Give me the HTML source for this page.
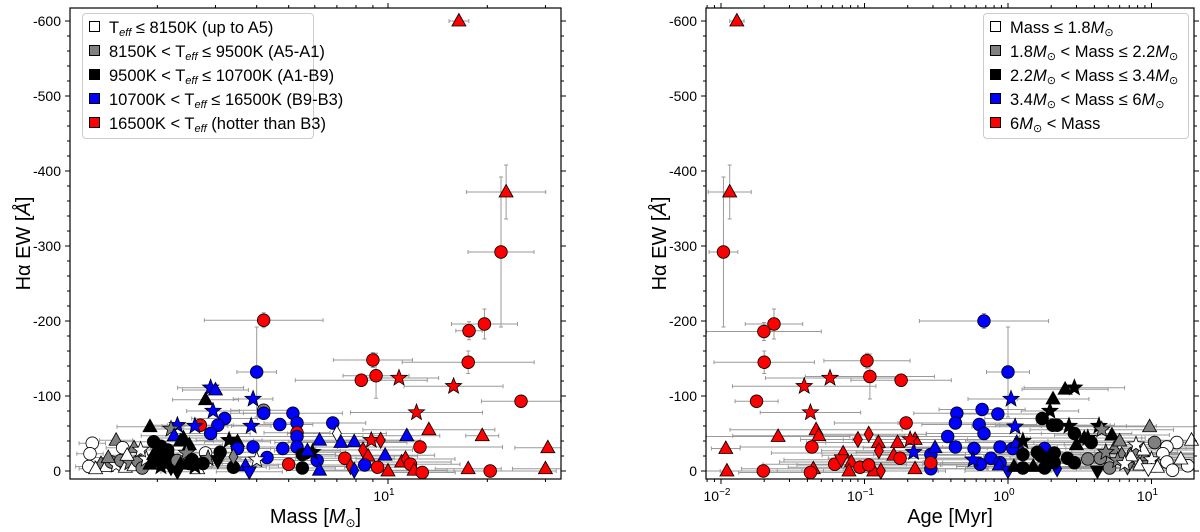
<!DOCTYPE html>
<html><head><meta charset="utf-8">
<style>
body{margin:0;background:#fff;width:1200px;height:532px;overflow:hidden;font-family:"Liberation Sans",sans-serif;}
#wrap{position:relative;width:1200px;height:532px;}
svg{position:absolute;left:0;top:0;}
.legend{position:absolute;background:rgba(255,255,255,0.85);border:1px solid #ccc;border-radius:4px;font-size:16.5px;color:#000;}
.entry{position:absolute;left:6px;white-space:nowrap;line-height:20px;}
.sw{display:inline-block;width:9px;height:9px;border:1px solid #000;margin-right:9px;vertical-align:1px;}
sub{font-size:11px;font-style:italic;vertical-align:-3px;}
i{font-style:italic;}
.odot{font-size:11px;vertical-align:-3px;}
</style></head><body>
<div id="wrap">
<svg id="svg" width="1200" height="532"></svg>

<div class="legend" style="left:82px;top:13px;width:230px;height:124px;">
 <div class="entry" style="top:4px"><span class="sw" style="background:#fff"></span>T<sub>eff</sub> ≤ 8150K (up to A5)</div>
 <div class="entry" style="top:28px"><span class="sw" style="background:#808080"></span>8150K &lt; T<sub>eff</sub> ≤ 9500K (A5-A1)</div>
 <div class="entry" style="top:52px"><span class="sw" style="background:#000"></span>9500K &lt; T<sub>eff</sub> ≤ 10700K (A1-B9)</div>
 <div class="entry" style="top:76px"><span class="sw" style="background:#0000ff"></span>10700K &lt; T<sub>eff</sub> ≤ 16500K (B9-B3)</div>
 <div class="entry" style="top:100px"><span class="sw" style="background:#ff0000"></span>16500K &lt; T<sub>eff</sub> (hotter than B3)</div>
</div>

<div class="legend" style="left:983px;top:13px;width:204px;height:124px;">
 <div class="entry" style="top:4px"><span class="sw" style="background:#fff"></span>Mass ≤ 1.8<i>M</i><span class="odot">⊙</span></div>
 <div class="entry" style="top:28px"><span class="sw" style="background:#808080"></span>1.8<i>M</i><span class="odot">⊙</span> &lt; Mass ≤ 2.2<i>M</i><span class="odot">⊙</span></div>
 <div class="entry" style="top:52px"><span class="sw" style="background:#000"></span>2.2<i>M</i><span class="odot">⊙</span> &lt; Mass ≤ 3.4<i>M</i><span class="odot">⊙</span></div>
 <div class="entry" style="top:76px"><span class="sw" style="background:#0000ff"></span>3.4<i>M</i><span class="odot">⊙</span> &lt; Mass ≤ 6<i>M</i><span class="odot">⊙</span></div>
 <div class="entry" style="top:100px"><span class="sw" style="background:#ff0000"></span>6<i>M</i><span class="odot">⊙</span> &lt; Mass</div>
</div>
</div>

<script>
// ---- data: [x value, H-alpha EW magnitude (Å, plotted as negative), shape, colour class, x error (dex), y error] ----
const leftPoints = [
[16.4,600,'^','r',0.03,0],[22.8,372,'^','r',0.12,36],[22,292,'o','r',0.1,100],[17.6,187,'o','r',0.04,12],[19.6,196,'o','r',0.1,20],
[4.2,201,'o','r',0.18,10],[25.3,93,'o','r',0.12,0],[9.0,148,'o','r',0.12,10],[17.5,145,'o','r',0.2,15],[8.3,121,'o','r',0.2,0],
[9.2,127,'o','r',0.1,30],[10.8,124,'*','r',0.12,0],[15.8,113,'*','r',0.15,0],[12.2,78,'*','r',0.2,0],
[4.0,132,'o','b',0.06,60],[2.9,111,'*','b',0.1,0],[3.0,108,'^','b',0.1,0],[2.8,95,'^','k',0.1,0],[3.9,96,'*','b',0.06,0],
[2.95,80,'*','b',0.08,0],[4.2,81,'o','g',0.1,0],[4.2,77,'o','b',0.1,0],[5.15,77,'o','b',0.15,0],[3.2,70,'o','b',0.1,0],
[3.05,61,'o','b',0.1,0],[2.7,61,'o','r',0.1,0],[2.6,60,'*','b',0.1,0],[2.3,61,'*','b',0.08,0],[2.2,56,'*','g',0.06,0],
[1.9,59,'^','k',0.1,0],[2.9,50,'o','b',0.12,0],[3.85,60,'*','b',0.06,0],[4.7,62,'o','b',0.1,0],[5.3,64,'o','b',0.1,0],
[5.3,51,'o','r',0.1,0],[5.3,46,'o','b',0.2,0],[5.3,32,'o','b',0.2,0],[6.8,64,'o','b',0.1,0],[7.0,50,'d','w',0.15,0],
[6.2,41,'^','b',0.2,0],[7.2,38,'^','b',0.2,0],[7.9,39,'^','b',0.2,0],[11.4,47,'^','b',0.1,0],[9.8,21,'^','b',0.15,0],
[13.3,55,'^','r',0.2,0],[19.3,47,'^','r',0.05,0],[30.5,31,'^','r',0.1,0],[8.9,41,'*','r',0.1,0],[9.5,41,'d','r',0.12,0],
[8.4,28,'d','r',0.15,0],[8.7,20,'^','r',0.15,0],[12.5,32,'o','r',0.25,0],[7.4,17,'o','r',0.15,0],[7.7,6,'d','r',0.1,0],
[7.9,1,'d','b',0.1,0],[8.5,8,'o','b',0.15,0],[9.3,5,'o','r',0.1,0],[10,0,'^','r',0.2,0],[11,12,'^','r',0.15,0],
[11.3,16,'d','r',0.15,0],[11.7,9,'o','r',0.15,0],[12,1,'^','r',0.1,0],[12.7,-2,'o','r',0.1,0],[17.5,3,'^','r',0.1,0],
[20.4,0,'o','r',0.2,0],[30,3,'^','r',0.1,0],[2.25,47,'^','b',0.1,0],[2.4,44,'^','k',0.1,0],[2.5,35,'^','k',0.1,0],
[2.35,40,'^','k',0.1,0],[1.95,39,'o','k',0.1,0],[2.05,33,'o','k',0.1,0],[3.3,41,'*','k',0.1,0],[3.5,39,'^','k',0.1,0],
[1.5,41,'^','g',0.05,0],[1.7,31,'^','g',0.05,0],[1.27,37,'o','w',0.04,0],[1.25,23,'o','w',0.04,0],[1.24,6,'o','w',0.04,0],
[1.57,31,'o','w',0.05,0],[3.5,30,'o','b',0.1,0],[3.9,32,'o','b',0.1,0],[4.8,30,'o','b',0.1,0],[4.3,18,'o','b',0.1,0],
[6.1,14,'o','b',0.1,0],[5.0,9,'o','r',0.1,0],[3.1,25,'o','k',0.1,0],[3.4,5,'o','k',0.1,0],[2.8,24,'o','w',0.1,0],
[2.5,10,'o','k',0.1,0],[5.5,22,'o','k',0.1,0],[5.5,4,'o','k',0.1,0],[2.2,4,'v','k',0.1,0],[2.65,3,'^','w',0.1,0],
[3.7,7,'^','b',0.1,0],[3.8,-1,'v','b',0.1,0],[6.2,1,'^','b',0.1,0],[3.4,19,'d','g',0.1,0],[4.0,15,'*','w',0.1,0],
[5.9,25,'*','k',0.1,0],[5.7,27,'^','b',0.1,0],
[1.35,10,'^','g',0.05,0],[1.4,6,'^','w',0.05,0],[1.45,12,'o','g',0.05,0],[1.5,8,'*','w',0.05,0],[1.55,14,'o','g',0.05,0],
[1.6,5,'^','w',0.05,0],[1.65,11,'*','g',0.05,0],[1.7,7,'^','w',0.05,0],[1.75,13,'o','g',0.05,0],[1.8,4,'o','g',0.05,0],
[1.85,16,'*','w',0.05,0],[1.9,9,'^','k',0.05,0],[1.95,22,'^','k',0.05,0],[2.0,18,'o','k',0.05,0],[2.05,6,'*','k',0.05,0],
[2.1,12,'o','k',0.05,0],[2.15,28,'o','k',0.05,0],[2.2,20,'^','k',0.05,0],[2.3,14,'o','g',0.05,0],[2.35,9,'^','k',0.05,0],
[2.45,24,'*','g',0.05,0],[2.55,15,'o','k',0.05,0],[2.6,6,'*','k',0.05,0],[1.3,3,'^','w',0.05,0],[1.42,18,'^','g',0.05,0],
[1.62,21,'^','w',0.05,0],[1.78,28,'*','w',0.05,0],[2.85,17,'*','g',0.1,0],[2.75,10,'o','k',0.1,0],[3.05,13,'v','k',0.1,0],
[2.3,-1,'v','k',0.05,0]
];
const rightPoints = [
[0.0129,600,'^','r',0.05,0],[0.0115,372,'^','r',0.15,36],[0.0104,292,'o','r',0.1,100],[0.0199,186,'o','r',0.4,12],
[0.0234,196,'o','r',0.2,20],[0.020,145,'o','r',0.35,15],[0.0177,93,'o','r',0.15,0],[0.038,113,'*','r',0.5,0],
[0.0575,124,'*','r',0.45,0],[0.042,78,'*','r',0.35,0],[0.104,147,'o','r',0.3,10],[0.109,126,'o','r',0.45,30],
[0.18,121,'o','r',0.35,0],[0.195,64,'o','r',0.5,0],[0.68,200,'o','b',0.45,10],[1.0,132,'o','b',0.15,60],
[1.05,96,'*','b',0.3,0],[2.5,109,'^','k',0.3,0],[2.9,111,'*','k',0.35,0],[2.06,96,'^','k',0.25,0],[1.96,80,'*','k',0.2,0],
[0.44,77,'o','b',0.3,0],[0.66,82,'o','b',0.3,0],[0.85,76,'o','b',0.3,0],[0.43,64,'o','b',0.4,0],[0.63,62,'o','b',0.4,0],
[0.68,50,'o','b',0.4,0],[0.38,46,'o','b',0.5,0],[0.43,32,'o','b',0.5,0],[0.58,30,'o','b',0.4,0],[0.88,32,'o','b',0.4,0],
[1.08,30,'o','b',0.4,0],[1.8,30,'o','b',0.4,0],[0.76,17,'o','b',0.4,0],[0.88,11,'o','b',0.4,0],[0.64,9,'o','b',0.4,0],
[0.29,22,'o','b',0.4,0],[0.29,3,'o','b',0.4,0],[1.12,59,'*','b',0.3,0],[0.57,15,'*','b',0.3,0],[0.22,25,'*','b',0.4,0],
[0.31,31,'^','b',0.5,0],[1.15,38,'^','b',0.4,0],[0.87,8,'^','b',0.4,0],[1.0,0,'v','b',0.3,0],[2.2,3,'d','b',0.3,0],
[1.73,70,'o','k',0.4,0],[2.05,61,'o','k',0.4,0],[2.2,61,'o','k',0.4,0],[2.9,50,'o','k',0.4,0],[3.8,38,'o','k',0.4,0],
[1.27,22,'o','k',0.4,0],[1.6,25,'o','k',0.4,0],[2.1,24,'o','k',0.4,0],[2.6,17,'o','k',0.4,0],[2.9,11,'o','k',0.4,0],
[1.27,4,'o','k',0.4,0],[1.8,4,'o','k',0.4,0],[2.1,11,'o','k',0.4,0],[2.66,60,'*','k',0.4,0],[4.3,60,'*','k',0.4,0],
[1.27,40,'*','k',0.4,0],[3.6,44,'*','k',0.4,0],[3.0,35,'^','k',0.4,0],[1.5,6,'^','k',0.4,0],[1.1,6,'^','k',0.4,0],
[5.3,48,'^','k',0.4,0],[3.4,44,'^','k',0.4,0],[4.2,0,'v','k',0.4,0],[1.7,20,'o','k',0.4,0],[1.9,15,'*','k',0.4,0],
[9.7,59,'^','g',0.5,0],[10.5,38,'o','g',0.5,0],[3.6,16,'o','g',0.5,0],[5.1,4,'o','g',0.5,0],[4.4,17,'o','g',0.5,0],
[5.5,30,'^','g',0.5,0],[6.2,22,'^','g',0.5,0],[7.0,12,'^','g',0.5,0],[8.0,30,'^','g',0.5,0],[9.0,18,'^','g',0.5,0],
[6.8,5,'v','g',0.5,0],[4.8,25,'*','g',0.5,0],[5.8,14,'*','g',0.5,0],[7.5,24,'o','g',0.5,0],[9.5,10,'*','g',0.5,0],
[4.5,55,'*','g',0.5,0],[6.0,40,'^','g',0.5,0],
[15,38,'o','w',0.3,0],[12.8,32,'o','w',0.3,0],[12,23,'o','w',0.3,0],[12.8,12,'o','w',0.3,0],[14,1,'o','w',0.3,0],
[17.9,7,'o','w',0.3,0],[19,41,'^','w',0.3,0],[7.2,20,'^','w',0.5,0],[8.3,8,'^','w',0.5,0],[10,15,'*','w',0.5,0],
[11,5,'^','w',0.5,0],[6.5,10,'*','w',0.5,0],[8.8,28,'^','w',0.5,0],[9.5,3,'v','w',0.5,0],[16,16,'^','w',0.3,0],[7.8,35,'*','w',0.5,0],
[0.0108,30,'^','r',0.1,0],[0.011,0,'^','r',0.3,0],[0.025,46,'^','r',0.5,0],[0.046,55,'^','r',0.6,0],[0.048,47,'^','r',0.6,0],
[0.044,3,'^','r',0.5,0],[0.071,24,'^','r',0.5,0],[0.081,12,'^','r',0.5,0],[0.078,0,'^','r',0.5,0],[0.116,0,'^','r',0.5,0],
[0.125,38,'^','r',0.5,0],[0.16,21,'^','r',0.5,0],[0.17,38,'^','r',0.5,0],[0.225,3,'^','r',0.5,0],[0.225,42,'^','r',0.5,0],
[0.0197,0,'o','r',0.3,0],[0.043,32,'o','r',0.5,0],[0.042,-2,'o','r',0.5,0],[0.062,9,'o','r',0.5,0],[0.093,5,'o','r',0.5,0],
[0.107,8,'o','r',0.5,0],[0.177,17,'o','r',0.5,0],[0.29,11,'o','r',0.5,0],[0.09,42,'d','r',0.4,0],[0.107,49,'d','r',0.4,0],
[0.126,27,'d','r',0.4,0],[0.13,0,'d','r',0.4,0],[0.069,15,'v','r',0.4,0],[0.208,42,'*','r',0.4,0]
];
const yTickValues = [0,100,200,300,400,500,600];
const leftXMajor = [10];
const leftXMinor = [2,3,4,5,6,7,8,9,20,30];
const rightXMajor = [0.01,0.1,1,10];
const rightXMinor = [0.008,0.009,0.02,0.03,0.04,0.05,0.06,0.07,0.08,0.09,0.2,0.3,0.4,0.5,0.6,0.7,0.8,0.9,2,3,4,5,6,7,8,9,20];
const rightXLabels = ['−2','−1','0','1'];

const NS='http://www.w3.org/2000/svg';
const svg=document.getElementById('svg');
const COL={w:'#ffffff',g:'#808080',k:'#000000',b:'#0000ff',r:'#ff0000'};
function mk(tag,attrs,parent){const e=document.createElementNS(NS,tag);for(const k in attrs)e.setAttribute(k,attrs[k]);(parent||svg).appendChild(e);return e;}

const TOP=8,BOT=479;
function yScale(v){return 471-v*0.75;}

function drawPanel(p){
  const g=mk('g',{});
  
  
  const xs=v=>p.x0Pix+p.ppd*(Math.log10(v)-p.logRef);
  const eg=mk('g',{},g);
  
  
  p.points.forEach(d=>{
    const x=xs(d[0]),y=yScale(d[1]);
    const xl=Math.max(p.L,xs(d[0]/Math.pow(10,d[4]))),xr=Math.min(p.R,xs(d[0]*Math.pow(10,d[4])));
    const ln=mk('line',{x1:xl,y1:y,x2:xr,y2:y,stroke:'#9a9a9a','stroke-width':1},eg);
    
    
    if(xl>p.L)mk('line',{x1:xl,y1:y-2,x2:xl,y2:y+2,stroke:'#9a9a9a','stroke-width':1},eg);
    if(xr<p.R)mk('line',{x1:xr,y1:y-2,x2:xr,y2:y+2,stroke:'#9a9a9a','stroke-width':1},eg);
    if(d[5]>0){
      const y1=yScale(d[1]+d[5]),y2=yScale(d[1]-d[5]);
      const vl=mk('line',{x1:x,y1:y1,x2:x,y2:y2,stroke:'#9a9a9a','stroke-width':1},eg);
      
      
      mk('line',{x1:x-2,y1:y1,x2:x+2,y2:y1,stroke:'#9a9a9a','stroke-width':1},eg);
      mk('line',{x1:x-2,y1:y2,x2:x+2,y2:y2,stroke:'#9a9a9a','stroke-width':1},eg);
    }
  });
  p.points.forEach(d=>{
    const x=xs(d[0]),y=yScale(d[1]);const f=COL[d[3]];
    const st={fill:f,stroke:'#000','stroke-width':0.8};
    let m;
    if(d[2]==='o'){m=mk('circle',Object.assign({cx:x,cy:y,r:6.3},st),g);}
    else if(d[2]==='^'){m=mk('polygon',Object.assign({points:`${x},${y-7.5} ${x+7},${y+5} ${x-7},${y+5}`},st),g);}
    else if(d[2]==='v'){m=mk('polygon',Object.assign({points:`${x},${y+7.5} ${x+7},${y-5} ${x-7},${y-5}`},st),g);}
    else if(d[2]==='d'){m=mk('polygon',Object.assign({points:`${x},${y-8} ${x+4.5},${y} ${x},${y+8} ${x-4.5},${y}`},st),g);}
    else {let pts=[];for(let i=0;i<10;i++){const r=i%2?3.6:8.5;const a=-Math.PI/2+i*Math.PI/5;pts.push((x+r*Math.cos(a)).toFixed(1)+','+(y+r*Math.sin(a)).toFixed(1));}
      m=mk('polygon',Object.assign({points:pts.join(' ')},st),g);}
    
    
  });
  const fr=mk('rect',{x:p.L,y:TOP,width:p.R-p.L,height:BOT-TOP,fill:'none',stroke:'#000','stroke-width':1.2},g);
  
  
  for(let v=-20;v<=620;v+=20){const y=yScale(v);if(y<TOP||y>BOT)continue;const len=(v%100===0)?5:3;
    mk('line',{x1:p.L-len,y1:y,x2:p.L,y2:y,stroke:'#000','stroke-width':1},g);
    mk('line',{x1:p.R,y1:y,x2:p.R+len,y2:y,stroke:'#000','stroke-width':1},g);}
  yTickValues.forEach(v=>{const t=mk('text',{x:p.L-9,y:yScale(v)+5,'text-anchor':'end','font-size':14,'font-family':'Liberation Sans, sans-serif'},g);
    t.textContent=v===0?'0':'-'+v;
    
    });
  p.minor.forEach(v=>{const x=xs(v);if(x<p.L||x>p.R)return;
    mk('line',{x1:x,y1:BOT,x2:x,y2:BOT+3,stroke:'#000','stroke-width':1},g);
    mk('line',{x1:x,y1:TOP-3,x2:x,y2:TOP,stroke:'#000','stroke-width':1},g);});
  p.major.forEach((v,i)=>{const x=xs(v);
    mk('line',{x1:x,y1:BOT,x2:x,y2:BOT+5,stroke:'#000','stroke-width':1},g);
    mk('line',{x1:x,y1:TOP-5,x2:x,y2:TOP,stroke:'#000','stroke-width':1},g);
    const t=mk('text',{x:x-4,y:BOT+22,'text-anchor':'middle','font-size':14,'font-family':'Liberation Sans, sans-serif'},g);
    t.textContent='10';
    const s=mk('tspan',{dy:-6,'font-size':10},t);s.textContent=p.labels[i];
    
    });
  const xl=mk('text',{x:(p.L+p.R)/2,y:523,'text-anchor':'middle','font-size':20,'font-family':'Liberation Sans, sans-serif'},g);
  
  
  if(p.name==='left-panel'){xl.textContent='Mass [';const a=mk('tspan',{'font-style':'italic'},xl);a.textContent='M';const b=mk('tspan',{'font-size':12,dy:4},xl);b.textContent='⊙';const c=mk('tspan',{dy:-4},xl);c.textContent=']';}
  else xl.textContent='Age [Myr]';
  const yx=p.L-40,yy=(TOP+BOT)/2;
  const yl=mk('text',{x:yx,y:yy,'text-anchor':'middle','font-size':20,'font-family':'Liberation Sans, sans-serif',transform:`rotate(-90 ${yx} ${yy})`},g);
  
  
  yl.textContent='Hα EW [';const q=mk('tspan',{'font-style':'italic'},yl);q.textContent='Å';const q2=mk('tspan',{},yl);q2.textContent=']';
}

drawPanel({name:'left-panel',points:leftPoints,L:70,R:561,x0Pix:388,ppd:330,logRef:1,major:leftXMajor,minor:leftXMinor,labels:['1']});
drawPanel({name:'right-panel',points:rightPoints,L:706,R:1194,x0Pix:1008,ppd:143.5,logRef:0,major:rightXMajor,minor:rightXMinor,labels:rightXLabels});
</script>
</body></html>
